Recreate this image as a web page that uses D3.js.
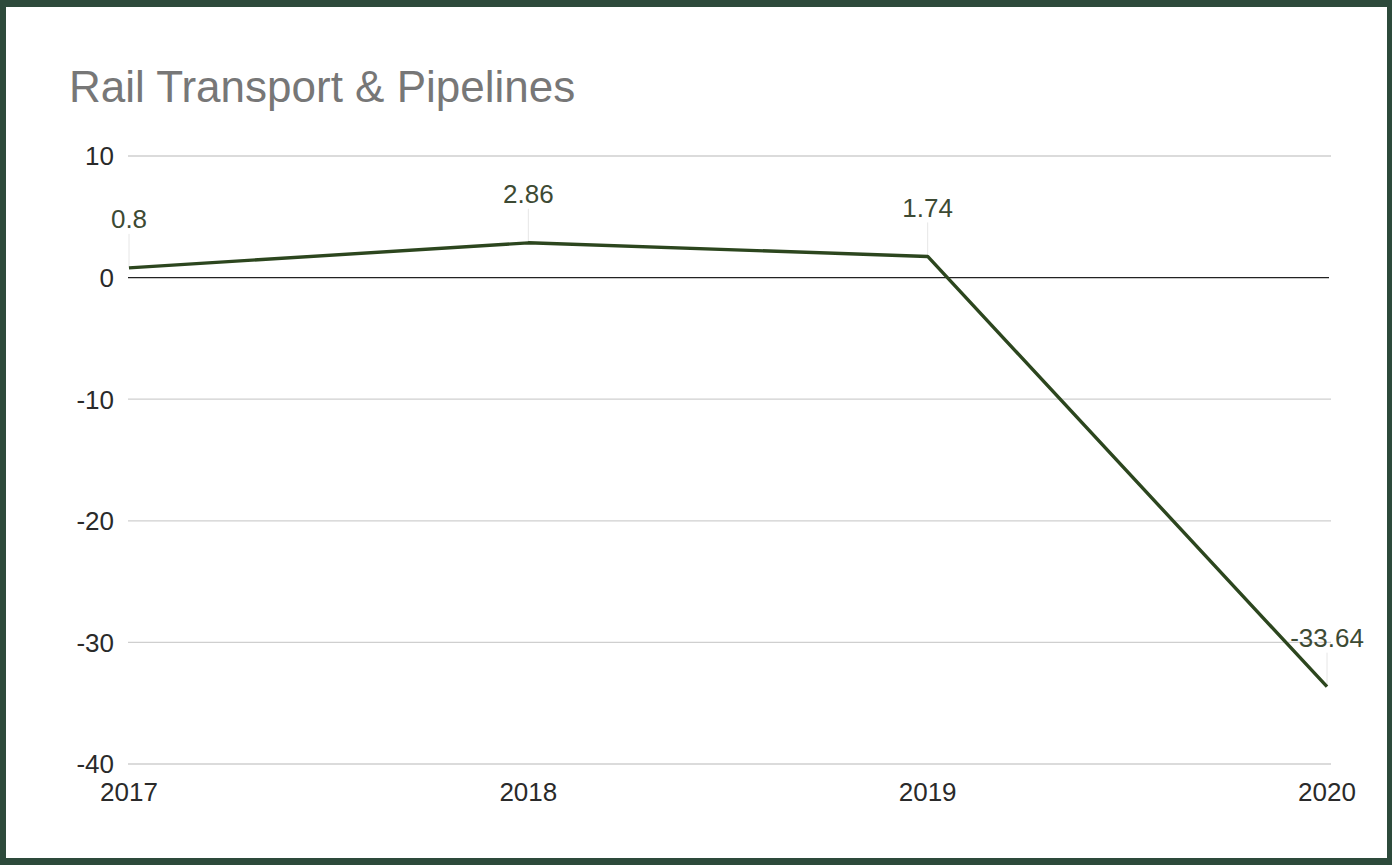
<!DOCTYPE html>
<html><head><meta charset="utf-8">
<script src="https://cdn.jsdelivr.net/npm/d3@7"></script>
<style>
html,body{margin:0;padding:0;background:#2d4a3b;}
svg{display:block;}
text{font-family:"Liberation Sans",Arial,sans-serif;}
</style></head>
<body>
<script>
const years = ["2017","2018","2019","2020"];
const values = [0.8, 2.86, 1.74, -33.64];
const labels = ["0.8","2.86","1.74","-33.64"];
const yTicks = [10, 0, -10, -20, -30, -40];
const title = "Rail Transport & Pipelines";

const W = 1392, H = 865;
const svg = d3.select("body").append("svg").attr("width", W).attr("height", H);
svg.append("rect").attr("width", W).attr("height", H).attr("fill", "#2d4a3b");
svg.append("rect").attr("x", 6).attr("y", 7).attr("width", 1381).attr("height", 851).attr("fill", "#fff");

const x = d3.scalePoint().domain(years).range([129, 1327]);
const y = d3.scaleLinear().domain([-40, 10]).range([764, 156]);

svg.append("text").attr("x", 69).attr("y", 102).attr("font-size", 44)
  .attr("fill", "#777").text(title);

// gridlines
svg.append("g").selectAll("line").data(yTicks.filter(d => d !== 0)).join("line")
  .attr("x1", 128).attr("x2", 1331)
  .attr("y1", d => y(d)).attr("y2", d => y(d))
  .attr("stroke", "#cfcfcf").attr("stroke-width", 1.3);

// y tick labels
svg.append("g").selectAll("text").data(yTicks).join("text")
  .attr("x", 114).attr("y", d => y(d)).attr("dy", "0.36em")
  .attr("text-anchor", "end").attr("font-size", 26).attr("fill", "#2a2a2a")
  .text(d => d);

// x labels
svg.append("g").selectAll("text").data(years).join("text")
  .attr("x", d => x(d)).attr("y", 801)
  .attr("text-anchor", "middle").attr("font-size", 26).attr("fill", "#2a2a2a")
  .text(d => d);

// leader lines
svg.append("g").selectAll("line").data(values).join("line")
  .attr("x1", (d, i) => x(years[i])).attr("x2", (d, i) => x(years[i]))
  .attr("y1", d => y(d) - 34).attr("y2", d => y(d))
  .attr("stroke", "#e6e6e6").attr("stroke-width", 1);

// zero line
svg.append("line").attr("x1", 128).attr("x2", 1329)
  .attr("y1", y(0)).attr("y2", y(0)).attr("stroke", "#222").attr("stroke-width", 1.4);

// series line
const line = d3.line().x((d, i) => x(years[i])).y(d => y(d));
svg.append("path").datum(values).attr("d", line)
  .attr("fill", "none").attr("stroke", "#2c461e").attr("stroke-width", 3.4)
  .attr("stroke-linejoin", "round");

// data labels
svg.append("g").selectAll("text").data(values).join("text")
  .attr("x", (d, i) => x(years[i])).attr("y", d => y(d) - 49).attr("dy", "0.36em")
  .attr("text-anchor", "middle").attr("font-size", 26).attr("fill", "#3d4a33")
  .text((d, i) => labels[i]);
</script>
</body></html>
